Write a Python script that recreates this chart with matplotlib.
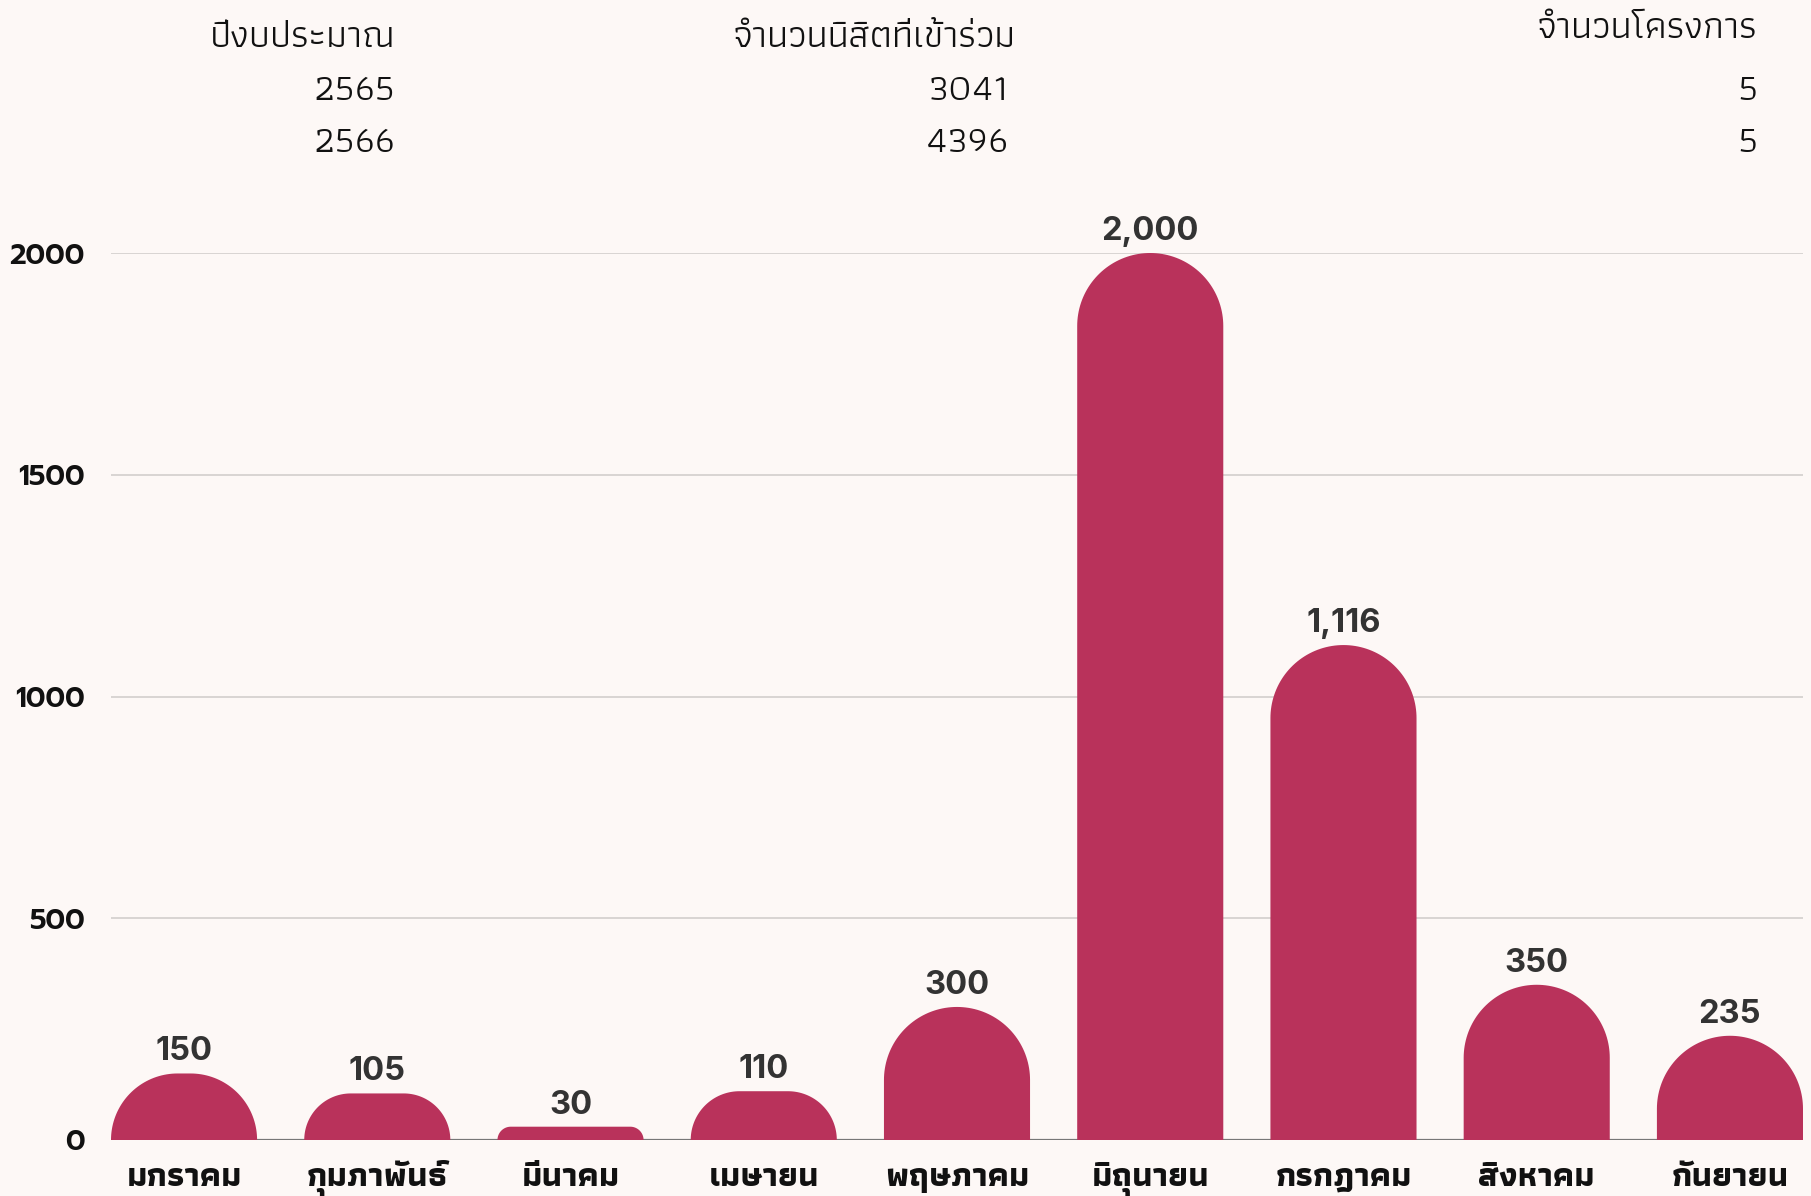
import matplotlib
matplotlib.use("Agg")
import matplotlib.pyplot as plt
import numpy as np
from matplotlib.patches import Polygon

months = ["มกราคม", "กุมภาพันธ์", "มีนาคม", "เมษายน", "พฤษภาคม",
          "มิถุนายน", "กรกฎาคม", "สิงหาคม", "กันยายน"]
participants = [150, 105, 30, 110, 300, 2000, 1116, 350, 235]
yticks = [0, 500, 1000, 1500, 2000]

table_header = ["ปีงบประมาณ", "จำนวนนิสิตที่เข้าร่วม", "จำนวนโครงการ"]
budget_years = ["2565", "2566"]
students = ["3041", "4396"]
projects = ["5", "5"]

BG = "#fdf8f6"
BAR = "#b9325b"
W, H = 1811, 1196

fig = plt.figure(figsize=(W / 100, H / 100), dpi=100, facecolor=BG)
ax = fig.add_axes([111 / W, (H - 1140) / H, 1692 / W, (1140 - 253) / H])
ax.set_facecolor(BG)

bw = 0.756
ax.set_xlim(-bw / 2, len(months) - 1 + bw / 2)
ax.set_ylim(0, 2000)

for s in ax.spines.values():
    s.set_visible(False)
ax.set_xticks([])
ax.set_yticks(yticks)
ax.set_yticklabels([str(t) for t in yticks], fontfamily="Prompt",
                   fontweight=600, fontsize=20.5, color="#111111")
ax.tick_params(axis="y", length=0, pad=19)
ax.grid(axis="y", color="#d9d5d3", linewidth=1.4)
ax.set_axisbelow(True)
ax.axhline(0, color="#777777", linewidth=1.6, zorder=1)

# pixels per data unit, so the rounded tops come out circular
p0 = ax.transData.transform((0, 0))
p1 = ax.transData.transform((1, 1))
sx, sy = p1[0] - p0[0], p1[1] - p0[1]


def rounded_bar(c, h, w):
    r = min(w * sx / 2, h * sy)
    rx, ry = r / sx, r / sy
    x0, x1 = c - w / 2, c + w / 2
    t1 = np.linspace(np.pi, np.pi / 2, 40)
    t2 = np.linspace(np.pi / 2, 0, 40)
    left = np.column_stack([x0 + rx + rx * np.cos(t1), h - ry + ry * np.sin(t1)])
    right = np.column_stack([x1 - rx + rx * np.cos(t2), h - ry + ry * np.sin(t2)])
    pts = np.vstack([[x0, 0], left, right, [x1, 0]])
    return Polygon(pts, closed=True, facecolor=BAR, edgecolor="none", zorder=2)


for i, v in enumerate(participants):
    ax.add_patch(rounded_bar(i, v, bw))
    ax.annotate(f"{v:,}", (i, v), xytext=(0, 9.5), textcoords="offset points",
                ha="center", va="baseline", fontfamily="Inter",
                fontweight="bold", fontsize=23.5, color="#333333",
                annotation_clip=False)
    ax.annotate(months[i], (i, 0), xytext=(0, -33), textcoords="offset points",
                ha="center", va="baseline", fontfamily="Athiti",
                fontweight="bold", fontsize=24.5, color="#111111",
                annotation_clip=False)

# summary table on top
hdr_kw = dict(fontfamily="Athiti", fontweight=400, fontsize=27.5,
              color="#111111", ha="right", va="baseline")
fig.text(395 / W, 1 - 47 / H, table_header[0], **hdr_kw)
fig.text(1016 / W, 1 - 47 / H, table_header[1], **hdr_kw)
fig.text(1757 / W, 1 - 38 / H, table_header[2], **hdr_kw)
row_y = [100, 152]
for j in range(len(budget_years)):
    fig.text(395 / W, 1 - row_y[j] / H, budget_years[j], **hdr_kw)
    fig.text(1008 / W, 1 - row_y[j] / H, students[j], **hdr_kw)
    fig.text(1757 / W, 1 - row_y[j] / H, projects[j], **hdr_kw)

fig.savefig("out.png", dpi=100, facecolor=BG)
